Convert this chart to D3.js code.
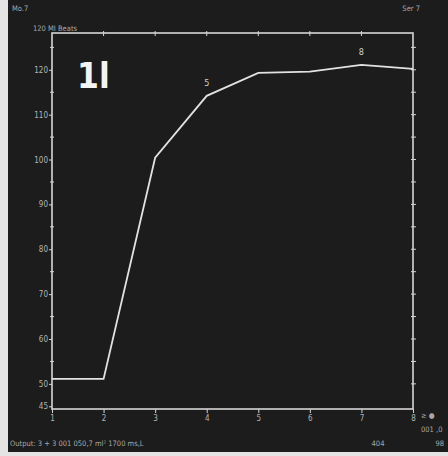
<!DOCTYPE html>
<html>
<head>
<meta charset="utf-8">
<script src="https://cdn.jsdelivr.net/npm/d3@7"></script>
<style>
  html, body { margin: 0; padding: 0; background: #1c1c1c; }
  #chart { width: 448px; height: 456px; }
  text { font-family: "DejaVu Sans Condensed", "Liberation Sans", sans-serif; }
</style>
</head>
<body>
<div id="chart"></div>
<script>
// Scan values
const beats = [1, 2, 3, 4, 5, 6, 7, 8];
const values = [51.1, 51.1, 100.4, 114.2, 119.3, 119.6, 121.1, 120.2];
const yTickValues = [45, 50, 60, 70, 80, 90, 100, 110, 120];
const yTickLabels = ['45', '50', '60', '70', '80', '90', '100', '110', '120'];
const pointMarks = [{ beat: 4, label: '5' }, { beat: 7, label: '8' }];

const width = 448, height = 456;
const margin = { top: 33, right: 35, bottom: 47, left: 52 };
const lineColor = '#d6d6d6';
const textColor = '#b4b4b4';

const svg = d3.select('#chart').append('svg')
    .attr('width', width)
    .attr('height', height);

svg.append('rect').attr('width', width).attr('height', height).attr('fill', '#1c1c1c');
// light scanner border on left and bottom
svg.append('rect').attr('x', 0).attr('y', 0).attr('width', 8).attr('height', height).attr('fill', '#e4e4e4');
svg.append('rect').attr('x', 0).attr('y', 452).attr('width', width).attr('height', 4).attr('fill', '#e4e4e4');

const x = d3.scaleLinear().domain([1, 8]).range([margin.left, width - margin.right]);
const y = d3.scaleLinear().domain([44.4, 128.2]).range([height - margin.bottom, margin.top]);

const x0 = x.range()[0], x1 = x.range()[1];
const y0 = y.range()[0], y1 = y.range()[1];

// frame
svg.append('rect')
    .attr('x', x0).attr('y', y1)
    .attr('width', x1 - x0).attr('height', y0 - y1)
    .attr('fill', 'none').attr('stroke', lineColor).attr('stroke-width', 1.6);

// left axis
const yAxis = d3.axisLeft(y)
    .tickValues(yTickValues)
    .tickSize(3)
    .tickPadding(1)
    .tickFormat((d, i) => yTickLabels[i]);

const gy = svg.append('g').attr('transform', `translate(${x0},0)`).call(yAxis);
gy.select('.domain').remove();
gy.selectAll('line').attr('stroke', lineColor);
gy.selectAll('text').style('font-size', '8px').attr('fill', textColor);

// minor ticks on left and right
const minor = d3.range(55, 128, 10);
svg.append('g').selectAll('line').data(minor).join('line')
    .attr('x1', x0 - 2).attr('x2', x0 + 2)
    .attr('y1', d => y(d)).attr('y2', d => y(d))
    .attr('stroke', lineColor);
svg.append('g').selectAll('line').data(d3.range(50, 128, 5)).join('line')
    .attr('x1', x1 - 2).attr('x2', x1 + 3)
    .attr('y1', d => y(d)).attr('y2', d => y(d))
    .attr('stroke', lineColor);

// bottom axis
const xAxis = d3.axisBottom(x).tickValues(beats).tickSize(4).tickPadding(2).tickFormat(d3.format('d'));
const gx = svg.append('g').attr('transform', `translate(0,${y0})`).call(xAxis);
gx.select('.domain').remove();
gx.selectAll('line').attr('stroke', lineColor);
gx.selectAll('text').style('font-size', '8px').attr('fill', textColor);

// top ticks
svg.append('g').selectAll('line').data(beats.slice(1, -1)).join('line')
    .attr('x1', d => x(d)).attr('x2', d => x(d))
    .attr('y1', y1 - 2).attr('y2', y1 + 3)
    .attr('stroke', lineColor);

// the curve
const line = d3.line()
    .x((d, i) => x(beats[i]))
    .y(d => y(d));

svg.append('path')
    .datum(values)
    .attr('d', line)
    .attr('fill', 'none')
    .attr('stroke', '#e2e2e2')
    .attr('stroke-width', 1.8);

svg.selectAll('.mark').data(pointMarks).join('text')
    .attr('class', 'mark')
    .attr('x', d => x(d.beat))
    .attr('y', d => y(values[d.beat - 1]) - 10)
    .attr('text-anchor', 'middle')
    .style('font-size', '9px')
    .attr('fill', '#cfcfcf')
    .text(d => d.label);

// panel label
svg.append('text')
    .attr('x', 77).attr('y', 88)
    .style('font-family', '"Liberation Sans Narrow", "DejaVu Sans Condensed", sans-serif')
    .style('font-size', '35px').style('font-weight', 'bold')
    .attr('fill', '#f4f4f4')
    .text('1l');

// screen annotations
const small = (tx, ty, s, anchor) => svg.append('text')
    .attr('x', tx).attr('y', ty)
    .attr('text-anchor', anchor || 'start')
    .style('font-size', '7.5px')
    .attr('fill', '#a8a8a8')
    .text(s);

small(12, 11, 'Mo.7');
small(33, 31, '120 MI Beats');
small(420, 11, 'Ser 7', 'end');
small(10, 446, 'Output: 3 + 3  001 050,7 ml² 1700 ms,L');
small(378, 446, '404', 'middle');
small(444, 446, '98', 'end');
small(421, 418, '≥ ●');
small(421, 432, '001 ,0');
</script>
</body>
</html>
